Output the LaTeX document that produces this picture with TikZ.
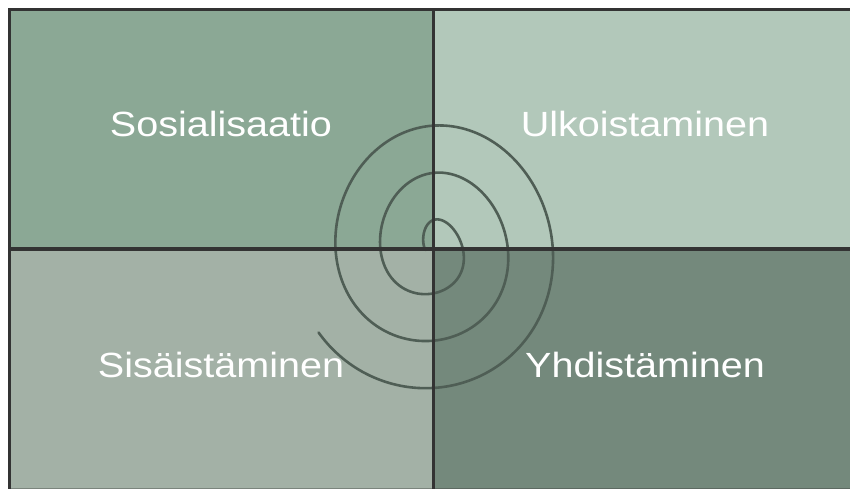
\documentclass[tikz,border=0pt]{standalone}
\usepackage{fontspec}
\setmainfont{Liberation Sans}
\definecolor{qtl}{HTML}{8BA895}
\definecolor{qtr}{HTML}{B2C8BA}
\definecolor{qbl}{HTML}{A3B1A6}
\definecolor{qbr}{HTML}{74897C}
\definecolor{dline}{HTML}{333333}
\definecolor{spir}{HTML}{4F5E55}
\begin{document}
\begin{tikzpicture}[x=1pt,y=-1pt,
  lbl/.style={text=white, font=\fontsize{35}{42}\selectfont, anchor=base, inner sep=0pt},
  divider/.style={draw=dline, line width=3.5pt},
  spiralline/.style={draw=spir, line width=2.6pt, line cap=round}]
\useasboundingbox (0,0) rectangle (850,489);
\clip (0,0) rectangle (850,489);
\fill[white] (0,0) rectangle (850,489);
% quadrants
\fill[qtl] (9.5,9.5) rectangle (433.5,248.5);
\fill[qtr] (433.5,9.5) rectangle (850,248.5);
\fill[qbl] (9.5,248.5) rectangle (433.5,489);
\fill[qbr] (433.5,248.5) rectangle (850,489);
% spiral
\draw[spiralline] plot[domain=180:-866, samples=300, smooth, variable=\t]
  ({433+0.95*(8+0.1313*(180-\t))*cos(\t)},
   {250-(8+0.1313*(180-\t))*sin(\t)-5*sin(\t)*(1+sin(\t))});
% dividers and frame
\draw[divider, line width=3pt] (433.5,9.5) -- (433.5,489);
\draw[divider, line width=4pt] (9.5,248.8) -- (850,248.8);
\draw[divider, line width=3pt] (850,9.5) -- (9.5,9.5) -- (9.5,489);
\draw[draw=dline, opacity=0.35, line width=1.5pt] (9.5,488.5) -- (850,488.5);
% labels
\node[lbl] (soc) at (221,137) {\scalebox{1.13}[1]{Sosialisaatio}};
\node[lbl] (ulk) at (645,137) {\scalebox{1.13}[1]{Ulkoistaminen}};
\node[lbl] (sis) at (221,377) {\scalebox{1.13}[1]{Sisäistäminen}};
\node[lbl] (yhd) at (645,377) {\scalebox{1.13}[1]{Yhdistäminen}};
\end{tikzpicture}
\end{document}
